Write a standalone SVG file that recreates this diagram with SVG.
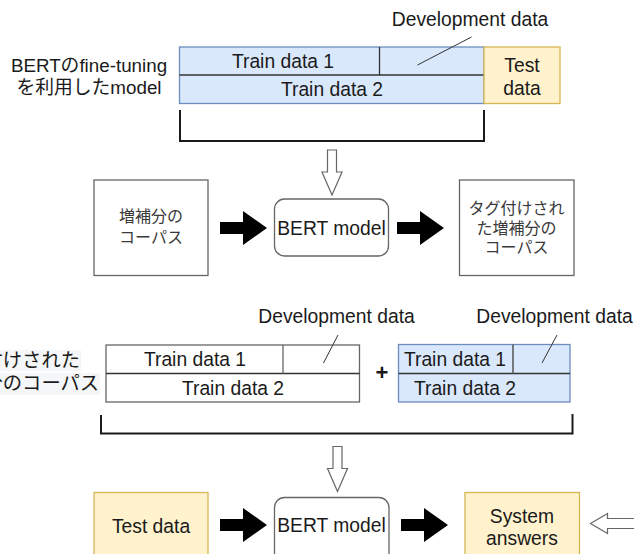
<svg xmlns="http://www.w3.org/2000/svg" xmlns:xlink="http://www.w3.org/1999/xlink" width="634" height="554" viewBox="0 0 634 554">
  <style>
    text { font-family: "Liberation Sans", "Noto Sans CJK JP", sans-serif; fill: #1a1a1a; }
    .t { font-size: 19.3px; text-anchor: middle; }
    .jp { font-size: 16px; text-anchor: middle; fill: #3a3a3a; }
    .lab { font-size: 18.8px; }
    .blue { fill: #dae8fc; stroke: #6c8ebf; stroke-width: 1.3; }
    .yellow { fill: #fff2cc; stroke: #d6b656; stroke-width: 1.3; }
    .plain { fill: #ffffff; stroke: #666666; stroke-width: 1.3; }
    .div { stroke: #333333; stroke-width: 1.3; fill: none; }
    .lead { stroke: #333333; stroke-width: 1; fill: none; }
    .bracket { stroke: #1a1a1a; stroke-width: 2; fill: none; }
    .hollow { fill: #ffffff; stroke: #666666; stroke-width: 1.2; }
    .solid { fill: #000000; }
  </style>
  <defs>
    <path id="blockArrow" d="M0,-6 H23 V-17 L47,0 L23,17 V6 H0 Z"/>
    <path id="downArrow" d="M-4.5,0 H4.5 V22 H10 L0,45 L-10,22 H-4.5 Z"/>
    <path id="leftArrow" d="M0,0 L17,-10 V-5 H50 V5 H17 V10 Z"/>
  </defs>
  <rect width="634" height="554" fill="#ffffff"/>

  <!-- fine-tuning data split -->
  <g id="finetune-label">
    <text class="lab" x="89" y="71.5" text-anchor="middle">BERTのfine-tuning</text>
    <text class="lab" x="89" y="93.5" text-anchor="middle">を利用したmodel</text>
  </g>
  <g id="train-split-1">
    <rect class="blue" x="179.5" y="47" width="304.5" height="56.5"/>
    <line class="div" x1="179.5" y1="75" x2="484" y2="75"/>
    <line class="div" x1="379.5" y1="47" x2="379.5" y2="75"/>
    <text class="t" x="283" y="68">Train data 1</text>
    <text class="t" x="332" y="96">Train data 2</text>
  </g>
  <g id="dev-label-1">
    <text class="t" x="470" y="26">Development data</text>
  </g>
  <g id="test-data-1">
    <rect class="yellow" x="484" y="47" width="76" height="56.5"/>
    <text class="t" x="522" y="72">Test</text>
    <text class="t" x="522" y="95">data</text>
  </g>

  <!-- tagging stage -->
  <g id="corpus-in">
    <rect class="plain" x="94" y="180" width="114" height="95.5"/>
    <text class="jp" x="151" y="222">増補分の</text>
    <text class="jp" x="151" y="243">コーパス</text>
  </g>
  <g id="bert-1">
    <rect class="plain" x="274.5" y="199" width="114" height="57" rx="10" ry="10"/>
    <text class="t" x="331.5" y="234.5">BERT model</text>
  </g>
  <g id="corpus-tagged">
    <rect class="plain" x="459.5" y="180" width="114.5" height="95.5"/>
    <text class="jp" x="516.5" y="214">タグ付けされ</text>
    <text class="jp" x="516.5" y="233.5">た増補分の</text>
    <text class="jp" x="516.5" y="253">コーパス</text>
  </g>

  <!-- combined training data -->
  <g id="tagged-label">
    <rect x="0" y="350" width="81" height="21" fill="#f5f6f7"/>
    <rect x="0" y="373" width="100" height="22" fill="#f5f6f7"/>
    <text x="-55" y="367" font-size="19.3">タグ付けされた</text>
    <text x="-55" y="390" font-size="19.3">増補分のコーパス</text>
  </g>
  <g id="train-split-2">
    <rect class="plain" x="106" y="345" width="253.5" height="57"/>
    <line class="div" x1="106" y1="373.5" x2="359.5" y2="373.5"/>
    <line class="plain" x1="283" y1="345" x2="283" y2="373.5"/>
    <text class="t" x="195" y="366">Train data 1</text>
    <text class="t" x="233" y="395">Train data 2</text>
  </g>
  <g id="dev-label-2">
    <text class="t" x="336.5" y="323">Development data</text>
  </g>
  <g id="plus">
    <text x="382" y="380" font-size="22" font-weight="bold" text-anchor="middle">+</text>
  </g>
  <g id="train-split-3">
    <rect class="blue" x="398.5" y="344.5" width="171.5" height="57.5"/>
    <line class="div" x1="398.5" y1="373.5" x2="570" y2="373.5"/>
    <line x1="513" y1="344.5" x2="513" y2="373.5" stroke="#555555" stroke-width="1.5"/>
    <text class="t" x="455" y="366">Train data 1</text>
    <text class="t" x="465" y="395">Train data 2</text>
  </g>
  <g id="dev-label-3">
    <text class="t" x="554.5" y="323">Development data</text>
  </g>

  <!-- evaluation stage -->
  <g id="test-data-2">
    <rect class="yellow" x="94" y="492.5" width="114" height="70"/>
    <text class="t" x="151" y="533">Test data</text>
  </g>
  <g id="bert-2">
    <rect class="plain" x="274.5" y="497.5" width="114.5" height="70" rx="10" ry="10"/>
    <text class="t" x="331.5" y="532">BERT model</text>
  </g>
  <g id="system-answers">
    <rect class="yellow" x="465" y="492.5" width="114.5" height="70"/>
    <text class="t" x="522" y="522.5">System</text>
    <text class="t" x="522" y="544.5">answers</text>
  </g>

  <g id="connectors">
    <!-- leader lines to development splits -->
    <line class="lead" x1="471.5" y1="37" x2="417.5" y2="65"/>
    <line class="lead" x1="338" y1="335" x2="323.5" y2="363"/>
    <line class="lead" x1="557" y1="335" x2="542" y2="363"/>
    <!-- brackets grouping the data -->
    <polyline class="bracket" points="180,110 180,141 484,141 484,110"/>
    <polyline class="bracket" points="101,415 101,433.5 572.5,433.5 572.5,414"/>
    <!-- hollow flow arrows -->
    <use xlink:href="#downArrow" class="hollow" x="332" y="150"/>
    <use xlink:href="#downArrow" class="hollow" x="337.5" y="446.5" />
    <use xlink:href="#leftArrow" class="hollow" x="590.5" y="523.5"/>
    <!-- solid process arrows -->
    <use xlink:href="#blockArrow" class="solid" x="220" y="228"/>
    <use xlink:href="#blockArrow" class="solid" x="397" y="228"/>
    <use xlink:href="#blockArrow" class="solid" x="220" y="525"/>
    <use xlink:href="#blockArrow" class="solid" x="401" y="525"/>
  </g>
</svg>
